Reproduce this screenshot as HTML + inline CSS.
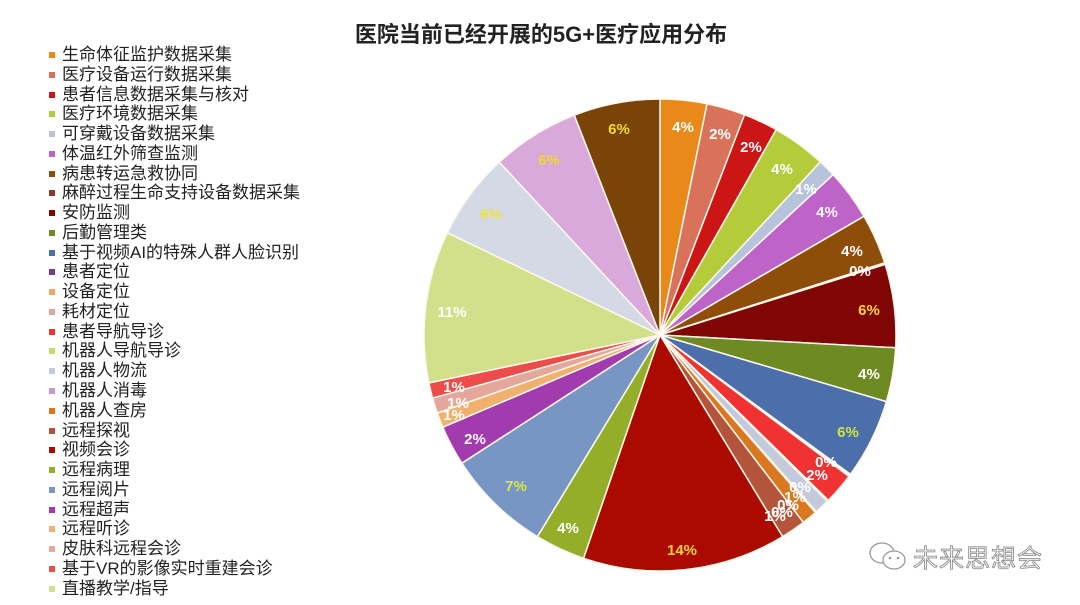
<!DOCTYPE html>
<html><head><meta charset="utf-8"><style>
html,body{margin:0;padding:0;background:#fff;}
body{width:1080px;height:605px;overflow:hidden;position:relative;font-family:"Liberation Sans","Noto Sans CJK SC",sans-serif;}
.t{position:absolute;left:0;width:1082px;top:17px;text-align:center;font-weight:bold;font-size:22px;color:#222;}
.lg{position:absolute;left:49px;top:45px;}
.lg div{height:19.78px;line-height:20px;font-size:17px;color:#222;white-space:nowrap;position:relative;padding-left:13px;}
.lg div span{position:absolute;left:0;top:7px;width:6px;height:6px;}
.wm{position:absolute;left:913px;top:539px;font-size:25px;color:#f4f4f4;-webkit-text-stroke:0.8px #888;letter-spacing:1px;}
</style></head><body>
<div class="t">医院当前已经开展的5G+医疗应用分布</div>
<div class="lg" id="lg"></div>
<svg id="pie" width="1080" height="605" style="position:absolute;left:0;top:0"></svg>
<svg width="60" height="40" style="position:absolute;left:862px;top:538px">
<ellipse cx="20" cy="15" rx="12" ry="10" fill="none" stroke="#999" stroke-width="1.3"/>
<ellipse cx="32" cy="22" rx="11" ry="9" fill="#fff" stroke="#999" stroke-width="1.3"/>
<circle cx="28" cy="20" r="1.3" fill="#999"/><circle cx="36" cy="20" r="1.3" fill="#999"/>
</svg>
<div class="wm">未来思想会</div>
<script>
var names=["生命体征监护数据采集","医疗设备运行数据采集","患者信息数据采集与核对","医疗环境数据采集","可穿戴设备数据采集","体温红外筛查监测","病患转运急救协同","麻醉过程生命支持设备数据采集","安防监测","后勤管理类","基于视频AI的特殊人群人脸识别","患者定位","设备定位","耗材定位","患者导航导诊","机器人导航导诊","机器人物流","机器人消毒","机器人查房","远程探视","视频会诊","远程病理","远程阅片","远程超声","远程听诊","皮肤科远程会诊","基于VR的影像实时重建会诊","直播教学/指导"];
var s=[[0,11.5,"#E8891A"],[11.5,21,"#D9725A"],[21,29.5,"#CC1515"],[29.5,42.8,"#B5CC3A"],[42.8,47.2,"#B5C3DC"],[47.2,59.8,"#BE63C8"],[59.8,72.2,"#8E4D09"],[72.2,72.6,"#8B3A2A"],[72.6,93.1,"#800606"],[93.1,106.4,"#6E8A22"],[106.4,126.2,"#4C6EAA"],[126.2,126.4,"#7A3C8A"],[126.4,126.6,"#F1A860"],[126.6,126.8,"#E4A79C"],[126.8,134.5,"#F03232"],[134.5,134.8,"#C8D86A"],[134.8,138.5,"#C3CADC"],[138.5,138.8,"#C79ACB"],[138.8,142.6,"#D9781E"],[142.6,148.7,"#B4543A"],[148.7,198.9,"#AA0A00"],[198.9,211.3,"#95AE2A"],[211.3,237.1,"#7896C3"],[237.1,247,"#A23BAD"],[247,250.7,"#F1B16E"],[250.7,254.5,"#E4A79C"],[254.5,258.3,"#EE4B4B"],[258.3,295.7,"#D3E08B"],[295.7,317.1,"#D3DAE6"],[317.1,338.7,"#D9A9DB"],[338.7,360,"#7A4409"]];
var lg=document.getElementById('lg'),h='';
names.forEach(function(n,i){h+='<div><span style="background:'+s[i][2]+'"></span>'+n+'</div>';});
lg.innerHTML=h;
var cx=660,cy=335,r=236,o='';
function p(a,rr){a=a*Math.PI/180;return [cx+rr*Math.sin(a),cy-rr*Math.cos(a)];}
s.forEach(function(q){var a=p(q[0],r),b=p(q[1],r),l=(q[1]-q[0])>180?1:0;
o+='<path d="M'+cx+','+cy+'L'+a[0].toFixed(2)+','+a[1].toFixed(2)+'A'+r+','+r+' 0 '+l+' 1 '+b[0].toFixed(2)+','+b[1].toFixed(2)+'Z" fill="'+q[2]+'" stroke="#FFF8EC" stroke-width="1.5"/>';});
var L=[[683,127,"4%","#fff"],[720,134,"2%","#fff"],[751,147,"2%","#fff"],[782,169,"4%","#fff"],[806,189,"1%","#fff"],[827,212,"4%","#fff"],[852,251,"4%","#fff"],[860,271,"0%","#fff"],[869,310,"6%","#FFD23A"],[869,374,"4%","#fff"],[848,432,"6%","#D0E640"],[826,462,"0%","#fff"],[817,475,"2%","#fff"],[800,487,"0%","#fff"],[795,497,"1%","#fff"],[788,505,"0%","#fff"],[782,512,"0%","#fff"],[775,516,"1%","#fff"],[682,550,"14%","#FFD23A"],[568,528,"4%","#fff"],[516,486,"7%","#D6E850"],[475,439,"2%","#fff"],[454,415,"1%","#fff"],[458,403,"1%","#fff"],[454,387,"1%","#fff"],[452,312,"11%","#fff"],[491,214,"6%","#F0E040"],[549,160,"6%","#F0D830"],[619,129,"6%","#F0D830"]];
L.forEach(function(t){o+='<text x="'+t[0]+'" y="'+(t[1]+5)+'" text-anchor="middle" font-family="Liberation Sans" font-weight="bold" font-size="15" fill="'+t[3]+'">'+t[2]+'</text>';});
document.getElementById('pie').innerHTML=o;
</script>
</body></html>
